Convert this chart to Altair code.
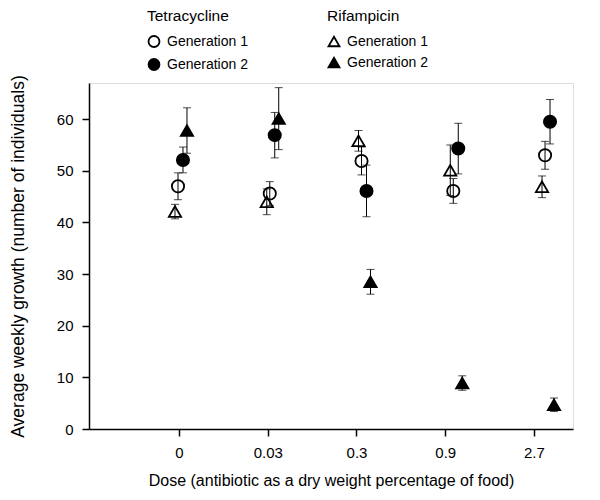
import altair as alt
import pandas as pd

doses = ["0", "0.03", "0.3", "0.9", "2.7"]
generations = ["Generation 1", "Generation 2"]

tet_g1 = [47.0, 45.6, 51.9, 46.1, 53.0]
tet_g1_err = [2.6, 2.3, 2.7, 2.4, 2.7]
tet_g2 = [52.1, 56.9, 46.1, 54.3, 59.5]
tet_g2_err = [2.5, 4.4, 5.0, 4.9, 4.3]
rif_g1 = [42.1, 44.0, 55.8, 50.1, 46.9]
rif_g1_err = [1.4, 2.5, 2.0, 4.9, 2.1]
rif_g2 = [57.8, 60.1, 28.5, 8.9, 4.7]
rif_g2_err = [4.4, 6.0, 2.4, 1.4, 1.3]

# small horizontal displacement of each series around its dose (index units)
series_shift = {("Rifampicin", "Generation 1"): -0.045,
                ("Tetracycline", "Generation 1"): -0.011,
                ("Tetracycline", "Generation 2"): 0.045,
                ("Rifampicin", "Generation 2"): 0.09}
drift = 0.034

rows = []
for ab, gen, vals, errs in [("Tetracycline", "Generation 1", tet_g1, tet_g1_err),
                            ("Tetracycline", "Generation 2", tet_g2, tet_g2_err),
                            ("Rifampicin", "Generation 1", rif_g1, rif_g1_err),
                            ("Rifampicin", "Generation 2", rif_g2, rif_g2_err)]:
    for i, (d, v, e) in enumerate(zip(doses, vals, errs)):
        rows.append({"dose": d, "idx": i, "antibiotic": ab, "gen": gen,
                     "mean": v, "lo": v - e, "hi": v + e,
                     "xpos": i + series_shift[(ab, gen)] + drift * i})
df = pd.DataFrame(rows)

label_expr = "[" + ",".join("'%s'" % d for d in doses) + "][datum.value]"

x_enc = alt.X("xpos:Q",
              scale=alt.Scale(domain=[-1.014, 4.44], nice=False, zero=False),
              axis=alt.Axis(values=[0, 1, 2, 3, 4], labelExpr=label_expr,
                            title="Dose (antibiotic as a dry weight percentage of food)",
                            grid=False, tickSize=7, labelPadding=9, titlePadding=12,
                            labelFontSize=15, titleFontSize=16))
y_scale = alt.Scale(domain=[0, 67], nice=False)
y_axis = alt.Axis(values=[0, 10, 20, 30, 40, 50, 60], grid=False, tickSize=7,
                  labelPadding=9, title="Average weekly growth (number of individuals)",
                  titlePadding=29, labelFontSize=15, titleFontSize=17.5)

base = alt.Chart(df)

rules = base.mark_rule(color="black", strokeWidth=1).encode(
    x=x_enc, y=alt.Y("lo:Q", scale=y_scale, axis=y_axis), y2="hi:Q")

caps = base.transform_fold(["lo", "hi"], as_=["end", "val"]).mark_tick(
    orient="horizontal", color="black", size=8, thickness=1).encode(
    x="xpos:Q", y="val:Q")


def points(ab, shp, legend_x):
    leg = alt.Legend(title=ab, orient="none", legendX=legend_x, legendY=-74,
                     symbolStrokeColor="black", symbolStrokeWidth=1.8, symbolSize=120,
                     labelFontSize=14, titleFontSize=15.5, titleFontWeight="normal",
                     rowPadding=3, titlePadding=10, labelOffset=6, padding=0)
    return base.transform_filter(alt.datum.antibiotic == ab).mark_point(
        size=150, strokeWidth=1.8, opacity=1).encode(
        x="xpos:Q", y="mean:Q",
        shape=alt.Shape("gen:N", scale=alt.Scale(domain=generations, range=[shp, shp]),
                        legend=leg),
        fill=alt.Fill("gen:N", scale=alt.Scale(domain=generations,
                                               range=["transparent", "black"]),
                      legend=leg),
        stroke=alt.Stroke("gen:N", scale=alt.Scale(domain=generations,
                                                   range=["black", "black"]),
                          legend=leg))


tet = points("Tetracycline", "circle", 58)
rif = points("Rifampicin", "triangle-up", 238)

chart = alt.layer(rules, caps, tet, rif).resolve_scale(
    shape="independent", fill="independent", stroke="independent").resolve_legend(
    shape="independent", fill="independent", stroke="independent").properties(
    width=484, height=346,
    autosize=alt.AutoSizeParams(type="none"),
    padding={"left": 81, "top": 75, "right": 19, "bottom": 68}
).configure_view(stroke=None).configure(
    font="Liberation Sans"
).configure_axis(
    domainColor="black", domainWidth=1.5, tickColor="black", tickWidth=1.5,
    labelColor="black", titleColor="black",
    titleFontWeight="normal", labelFont="Liberation Sans", titleFont="Liberation Sans"
).configure_legend(
    labelFont="Liberation Sans", titleFont="Liberation Sans",
    labelColor="black", titleColor="black"
)

chart.save("out.html", embed_options={"renderer": "svg", "actions": False})
